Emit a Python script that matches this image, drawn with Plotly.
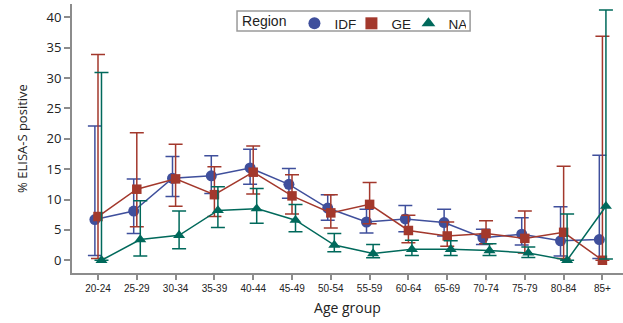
import plotly.graph_objects as go

age_groups = ["20-24", "25-29", "30-34", "35-39", "40-44", "45-49", "50-54",
              "55-59", "60-64", "65-69", "70-74", "75-79", "80-84", "85+"]

idf_val = [6.7, 8.1, 13.5, 13.9, 15.2, 12.5, 8.6, 6.3, 6.8, 6.2, 3.7, 4.3, 3.2, 3.4]
idf_low = [0.8, 4.4, 10.5, 11.0, 12.5, 10.2, 6.6, 4.5, 4.7, 4.0, 2.6, 2.5, 0.7, 0.3]
idf_up = [22.1, 13.4, 17.1, 17.2, 18.3, 15.1, 10.8, 8.4, 9.0, 8.4, 5.1, 7.0, 8.8, 17.3]

ge_val = [7.2, 11.7, 13.4, 10.8, 14.5, 10.6, 7.8, 9.2, 4.9, 4.0, 4.4, 3.6, 4.6, 0.0]
ge_low = [0.3, 5.5, 8.9, 7.2, 10.9, 7.6, 5.3, 6.0, 2.9, 2.3, 2.7, 1.2, 0.3, 0.0]
ge_up = [33.9, 21.0, 19.1, 15.4, 18.8, 14.1, 10.8, 12.8, 7.4, 6.3, 6.5, 8.1, 15.5, 36.9]

na_val = [0.0, 3.4, 4.1, 8.2, 8.5, 6.6, 2.5, 1.1, 1.8, 1.8, 1.6, 1.2, 0.0, 8.9]
na_low = [0.0, 0.7, 1.9, 5.4, 6.1, 4.7, 1.4, 0.4, 0.8, 0.8, 0.8, 0.45, 0.0, 0.2]
na_up = [30.9, 9.8, 8.1, 12.1, 11.8, 9.2, 4.4, 2.6, 3.3, 3.2, 2.7, 2.2, 7.6, 41.2]

series = [
    ("IDF", idf_val, idf_low, idf_up, "#3F4F9C", "circle", 11, -0.08),
    ("GE", ge_val, ge_low, ge_up, "#A3382C", "square", 9.5, 0.0),
    ("NA", na_val, na_low, na_up, "#00695B", "triangle-up", 10.5, 0.09),
]

fig = go.Figure()
for name, val, low, up, col, sym, sz, off in series:
    xs = [i + off for i in range(len(age_groups))]
    fig.add_trace(go.Scatter(
        x=xs, y=val, mode="lines+markers", name=name, showlegend=False,
        line=dict(color=col, width=1.5),
        marker=dict(color=col, symbol=sym, size=sz),
        error_y=dict(type="data", symmetric=False,
                     array=[u - v for u, v in zip(up, val)],
                     arrayminus=[v - l for v, l in zip(val, low)],
                     color=col, thickness=1.5, width=7),
    ))
for name, val, low, up, col, sym, sz, off in series:
    fig.add_trace(go.Scatter(
        x=[None], y=[None], mode="markers", name=name, showlegend=True,
        marker=dict(color=col, symbol=sym, size=12),
    ))

# legend frame
fig.add_shape(type="rect", xref="paper", yref="paper",
              x0=0.2995, x1=0.7225, y0=0.8996, y1=0.974,
              line=dict(color="#9a9a9a", width=1.5), fillcolor="white", layer="below")

fig.update_layout(
    width=623, height=323,
    margin=dict(l=72, r=0, t=4, b=50),
    paper_bgcolor="white", plot_bgcolor="white",
    font=dict(family="Open Sans", color="#222222"),
    legend=dict(
        orientation="h", x=0.305, y=0.985, xanchor="left", yanchor="top",
        title=dict(text="Region", font=dict(family="Liberation Sans", size=14)),
        font=dict(family="Liberation Sans", size=13.5),
        borderwidth=0, bgcolor="rgba(0,0,0,0)",
        itemwidth=30, tracegroupgap=0, entrywidth=12, entrywidthmode="pixels",
    ),
    xaxis=dict(
        range=[-0.67, 13.53], tickmode="array",
        tickvals=list(range(len(age_groups))), ticktext=age_groups,
        tickfont=dict(family="Liberation Sans", size=10),
        showgrid=False, zeroline=False, showline=True,
        linecolor="#8c8c8c", linewidth=2,
        ticks="outside", ticklen=5, tickcolor="#8c8c8c", tickwidth=1.5,
        title=dict(text="Age group", font=dict(family="Open Sans", size=14), standoff=10),
    ),
    yaxis=dict(
        range=[-2.1, 42.2], tickmode="array",
        tickvals=[0, 5, 10, 15, 20, 25, 30, 35, 40],
        tickfont=dict(family="Open Sans", size=13),
        showgrid=False, zeroline=False, showline=True,
        linecolor="#8c8c8c", linewidth=2,
        ticks="outside", ticklen=6, tickcolor="#8c8c8c", tickwidth=1.5,
        title=dict(text="% ELISA-S positive", font=dict(family="Open Sans", size=13), standoff=16),
    ),
)

fig.write_html("out.html", config={"displayModeBar": False},
               post_script="document.body.style.margin='0px';")
